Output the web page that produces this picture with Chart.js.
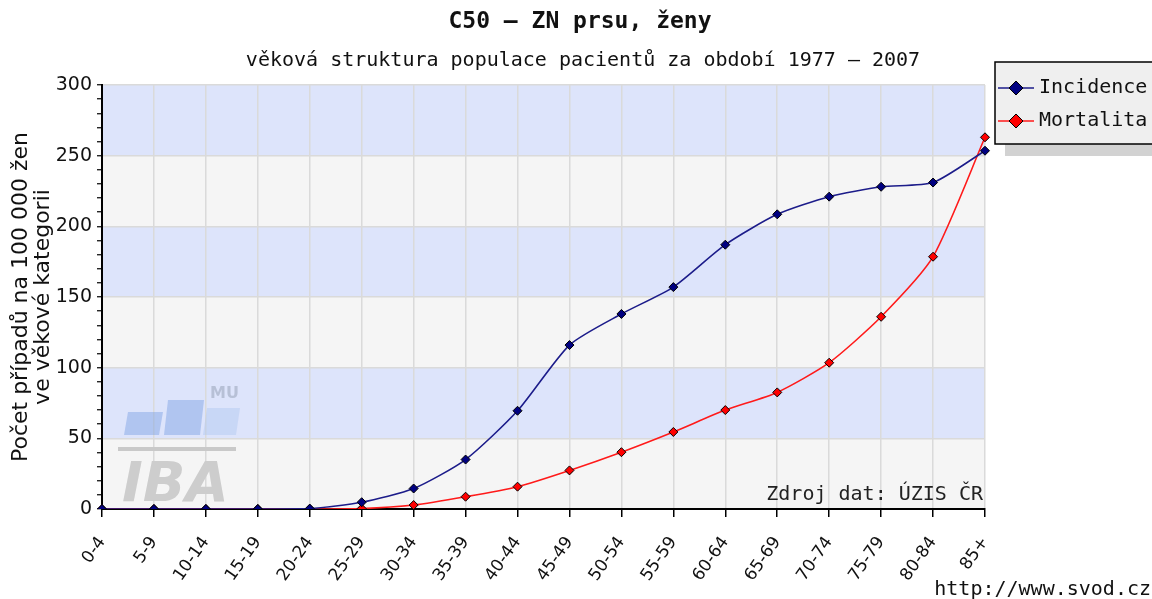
<!DOCTYPE html>
<html><head><meta charset="utf-8">
<script src="https://cdn.jsdelivr.net/npm/chart.js@4.4.0/dist/chart.umd.min.js"></script>
<style>html,body{margin:0;padding:0;background:#fff}#wrap{width:1152px;height:599px;position:relative}</style>
</head><body><div id="wrap"><canvas id="c"></canvas></div>
<script>
const categories = ['0-4','5-9','10-14','15-19','20-24','25-29','30-34','35-39','40-44','45-49','50-54','55-59','60-64','65-69','70-74','75-79','80-84','85+'];
const incidence = [0,0,0,0,0.3,4.8,14.5,35,69.5,116,138,157,187,208.5,221,228,231,253.5];
const mortalita = [0,0,0,0,0,0.3,2.8,8.7,15.8,27.3,40.2,54.5,70,82.5,103.5,136,178.5,263];
const yTicks = [0,50,100,150,200,250,300];
const seriesNames = ['Incidence','Mortalita'];
const titleText = 'C50 – ZN prsu, ženy';
const subtitleText = 'věková struktura populace pacientů za období 1977 – 2007';
const yAxisTitle = ['Počet případů na 100 000 žen','ve věkové kategorii'];
const sourceText = 'Zdroj dat: ÚZIS ČR';
const urlText = 'http://www.svod.cz';

const MONO = '"DejaVu Sans Mono", monospace';
const SANS = '"DejaVu Sans", sans-serif';
const BLUE_BAND = '#dde4fb';
const GREY_BAND = '#f5f5f5';

const decor = {
  id: 'decor',
  beforeDraw(chart) {
    const {ctx, chartArea: a, scales: {y}} = chart;
    ctx.save();
    ctx.fillStyle = '#fff';
    ctx.fillRect(0, 0, chart.width, chart.height);
    for (let i = 0; i < yTicks.length - 1; i++) {
      const y0 = y.getPixelForValue(yTicks[i]);
      const y1 = y.getPixelForValue(yTicks[i + 1]);
      ctx.fillStyle = i % 2 === 0 ? GREY_BAND : BLUE_BAND;
      ctx.fillRect(a.left, y1, a.right - a.left, y0 - y1);
    }
    ctx.restore();
  },
  beforeDatasetsDraw(chart) {
    const {ctx, chartArea: a} = chart;
    const L = a.left, B = a.bottom;
    ctx.save();
    // watermark IBA MU
    ctx.fillStyle = 'rgba(110,150,225,0.40)';
    const bar = (x0, x1, top, bot) => {
      ctx.beginPath();
      ctx.moveTo(L + x0 + 4, B - top);
      ctx.lineTo(L + x1 + 4, B - top);
      ctx.lineTo(L + x1, B - bot);
      ctx.lineTo(L + x0, B - bot);
      ctx.closePath();
      ctx.fill();
    };
    bar(22, 57, 97, 74);
    bar(62, 98, 109, 74);
    ctx.fillStyle = 'rgba(170,195,240,0.40)';
    bar(101, 134, 101, 74);
    ctx.fillStyle = '#c9c9c9';
    ctx.fillRect(L + 16, B - 62, 118, 4);
    ctx.fillStyle = '#b7c0d6';
    ctx.font = 'bold 16px ' + SANS;
    ctx.textBaseline = 'middle';
    ctx.fillText('MU', L + 108, B - 115);
    ctx.fillStyle = '#cdcdcd';
    ctx.font = 'italic bold 56px ' + SANS;
    ctx.textBaseline = 'alphabetic';
    ctx.fillText('IBA', L + 20, B - 8);
    // source text
    ctx.fillStyle = '#222';
    ctx.font = '20px ' + MONO;
    ctx.textAlign = 'right';
    ctx.textBaseline = 'middle';
    ctx.fillText(sourceText, a.right - 2, B - 14);
    ctx.restore();
  },
  afterDraw(chart) {
    const {ctx} = chart;
    ctx.save();
    // titles
    ctx.fillStyle = '#111';
    ctx.textAlign = 'center';
    ctx.textBaseline = 'middle';
    ctx.font = 'bold 23px ' + MONO;
    ctx.fillText(titleText, 580, 22);
    ctx.font = '20px ' + MONO;
    ctx.fillText(subtitleText, 583, 61);
    // url
    ctx.textAlign = 'right';
    ctx.fillText(urlText, 1151, 590);
    // legend
    const lx = 995, ly = 62, lw = 165, lh = 82;
    ctx.fillStyle = '#d2d2d2';
    ctx.fillRect(lx + 10, ly + 12, lw, lh);
    ctx.fillStyle = '#efefef';
    ctx.fillRect(lx, ly, lw, lh);
    ctx.strokeStyle = '#000';
    ctx.lineWidth = 1.5;
    ctx.strokeRect(lx, ly, lw, lh);
    chart.data.datasets.forEach((ds, i) => {
      const cy = ly + 26 + i * 33;
      ctx.strokeStyle = ds.borderColor;
      ctx.lineWidth = 1.5;
      ctx.beginPath();
      ctx.moveTo(lx + 3, cy);
      ctx.lineTo(lx + 39, cy);
      ctx.stroke();
      ctx.fillStyle = ds.pointBackgroundColor;
      ctx.strokeStyle = '#000';
      ctx.lineWidth = 1;
      ctx.beginPath();
      ctx.moveTo(lx + 21, cy - 7);
      ctx.lineTo(lx + 28, cy);
      ctx.lineTo(lx + 21, cy + 7);
      ctx.lineTo(lx + 14, cy);
      ctx.closePath();
      ctx.fill();
      ctx.stroke();
      ctx.fillStyle = '#111';
      ctx.textAlign = 'left';
      ctx.font = '20px ' + MONO;
      ctx.fillText(ds.label, lx + 44, cy);
    });
    ctx.restore();
  }
};

new Chart(document.getElementById('c'), {
  type: 'line',
  data: {
    labels: categories,
    datasets: [
      {
        label: seriesNames[0], data: incidence,
        borderColor: '#1c1c8a', backgroundColor: '#000080',
        pointBackgroundColor: '#000080', pointBorderColor: '#000',
        borderWidth: 1.6, pointStyle: 'rectRot', pointRadius: 4.5, pointBorderWidth: 1,
        tension: 0.22, order: 1
      },
      {
        label: seriesNames[1], data: mortalita,
        borderColor: '#ff1a1a', backgroundColor: '#ff0000',
        pointBackgroundColor: '#ff0000', pointBorderColor: '#000',
        borderWidth: 1.6, pointStyle: 'rectRot', pointRadius: 4.5, pointBorderWidth: 1,
        tension: 0.22, order: 2
      }
    ]
  },
  options: {
    responsive: true,
    maintainAspectRatio: false,
    animation: false,
    layout: {padding: {top: 85, right: 167, bottom: 0, left: 0}},
    plugins: {legend: {display: false}, tooltip: {enabled: false}, title: {display: false}},
    scales: {
      x: {
        offset: false,
        grid: {color: '#dadada', lineWidth: 1.5, tickColor: '#000', tickLength: 8, tickWidth: 1.5},
        border: {color: '#000', width: 2},
        ticks: {
          color: '#111', font: {family: SANS, size: 17},
          maxRotation: 55, minRotation: 55, autoSkip: false, padding: 16
        },
        afterFit(scale) { scale.height = 90; }
      },
      y: {
        min: 0, max: 300,
        grid: {
          color: c => (c.tick && c.tick.value % 50 === 0) ? '#dadada' : 'rgba(0,0,0,0)',
          lineWidth: 1.5, tickColor: '#000', tickLength: 5, tickWidth: 1.2
        },
        border: {color: '#000', width: 2},
        ticks: {
          stepSize: 10, autoSkip: false, padding: 5,
          color: '#111', font: {family: SANS, size: 19},
          callback: v => (v % 50 === 0 ? String(v) : '')
        },
        title: {
          display: true, text: yAxisTitle, color: '#111',
          font: {family: SANS, size: 22, lineHeight: 1.0},
          padding: {top: 10, bottom: 0}
        },
        afterFit(scale) { scale.width = 102; }
      }
    }
  },
  plugins: [decor]
});
</script></body></html>
